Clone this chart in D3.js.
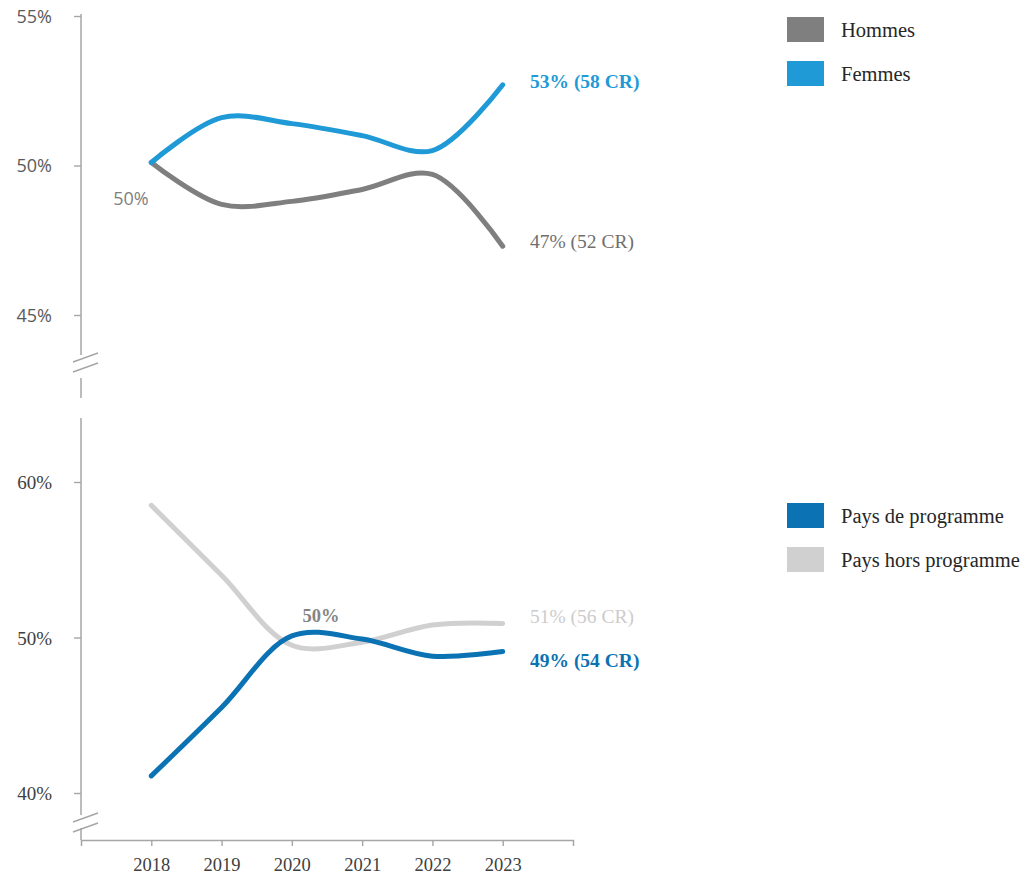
<!DOCTYPE html>
<html>
<head>
<meta charset="utf-8">
<script src="https://cdn.jsdelivr.net/npm/d3@7"></script>
<style>
  html, body { margin: 0; padding: 0; background: #ffffff; }
  svg { display: block; }
  .serif { font-family: "Liberation Serif", "Times New Roman", serif; }
  .sans { font-family: "Open Sans", "Noto Sans", sans-serif; }
</style>
</head>
<body>
<svg id="chart" width="1024" height="886"></svg>
<script>
// Years shown on the shared horizontal axis
const years = [2018, 2019, 2020, 2021, 2022, 2023];

// Upper panel: share by gender (%)
const hommes = [50.1, 48.7, 48.8, 49.2, 49.7, 47.3];
const femmes = [50.1, 51.6, 51.4, 51.0, 50.5, 52.7];
const genderCR2023 = { hommes: 52, femmes: 58 };
const topTicks = [45, 50, 55];

// Lower panel: share by country group (%)
const paysProgramme = [41.1, 45.5, 50.1, 49.9, 48.8, 49.1];
const paysHorsProgramme = [58.5, 54.0, 49.5, 49.7, 50.8, 50.9];
const countryCR2023 = { programme: 54, hors: 56 };
const bottomTicks = [40, 50, 60];

const legendTop = ["Hommes", "Femmes"];
const legendBottom = ["Pays de programme", "Pays hors programme"];

const colors = {
  hommes: "#7f7f7f",
  femmes: "#1f9ad6",
  programme: "#0b72b3",
  hors: "#d0d0d0",
  axis: "#a6a6a6"
};

const svg = d3.select("#chart");

const x = d3.scaleLinear().domain([2017, 2024]).range([81, 573]);
const yTop = d3.scaleLinear().domain([45, 55]).range([315, 16]);
const yBot = d3.scaleLinear().domain([40, 60]).range([793, 482]);

const pct = v => `${Math.round(v)}%`;

function drawLine(values, y, color) {
  const line = d3.line()
    .x((d, i) => x(years[i]))
    .y(d => y(d))
    .curve(d3.curveCatmullRom.alpha(0.5));
  svg.append("path")
    .datum(values)
    .attr("d", line)
    .attr("fill", "none")
    .attr("stroke", color)
    .attr("stroke-width", 5)
    .attr("stroke-linecap", "round")
    .attr("stroke-linejoin", "round");
}

function axisBreak(yPos) {
  const g = svg.append("g").attr("stroke", colors.axis).attr("stroke-width", 1.4);
  g.append("line").attr("x1", 73).attr("y1", yPos + 9).attr("x2", 98).attr("y2", yPos);
  g.append("line").attr("x1", 73).attr("y1", yPos + 19).attr("x2", 98).attr("y2", yPos + 10);
}

function vSeg(y1, y2) {
  svg.append("line")
    .attr("x1", 81).attr("x2", 81).attr("y1", y1).attr("y2", y2)
    .attr("stroke", colors.axis).attr("stroke-width", 1.5);
}

// ---------- Upper panel ----------
const gTop = svg.append("g").attr("transform", "translate(81,0)")
  .call(d3.axisLeft(yTop).tickValues(topTicks).tickFormat(pct).tickSize(7).tickSizeOuter(0));
gTop.select(".domain").remove();
gTop.selectAll(".tick line").attr("stroke", colors.axis).attr("stroke-width", 1.4);
gTop.selectAll(".tick text")
  .attr("class", "sans")
  .attr("x", -29)
  .attr("dy", "0.35em")
  .attr("font-size", 18)
  .attr("fill", "#5a5a5a");
vSeg(14, 355);
axisBreak(353);
vSeg(378, 398);

drawLine(hommes, yTop, colors.hommes);
drawLine(femmes, yTop, colors.femmes);

svg.append("text").attr("class", "sans")
  .attr("x", 131).attr("y", yTop(hommes[0]) + 42)
  .attr("text-anchor", "middle").attr("font-size", 18).attr("fill", "#7f7f7f")
  .text(pct(hommes[0]));

svg.append("text").attr("class", "serif")
  .attr("x", 530).attr("y", yTop(femmes[5]) - 4).attr("dy", "0.35em")
  .attr("font-size", 19.5).attr("font-weight", "bold").attr("fill", colors.femmes)
  .text(`${pct(femmes[5])} (${genderCR2023.femmes} CR)`);
svg.append("text").attr("class", "serif")
  .attr("x", 530).attr("y", yTop(hommes[5]) - 5).attr("dy", "0.35em")
  .attr("font-size", 19.5).attr("fill", "#6f6f6f")
  .text(`${pct(hommes[5])} (${genderCR2023.hommes} CR)`);

// ---------- Lower panel ----------
const gBot = svg.append("g").attr("transform", "translate(81,0)")
  .call(d3.axisLeft(yBot).tickValues(bottomTicks).tickFormat(pct).tickSize(7).tickSizeOuter(0));
gBot.select(".domain").remove();
gBot.selectAll(".tick line").attr("stroke", colors.axis).attr("stroke-width", 1.4);
gBot.selectAll(".tick text")
  .attr("class", "serif")
  .attr("x", -29)
  .attr("dy", "0.35em")
  .attr("font-size", 19)
  .attr("fill", "#404040");
vSeg(418, 815);
axisBreak(813);
vSeg(828, 840);

const gX = svg.append("g").attr("transform", "translate(0,840)")
  .call(d3.axisBottom(x).tickValues(years).tickFormat(d3.format("d")).tickSize(6).tickSizeOuter(6));
gX.select(".domain").attr("stroke", colors.axis).attr("stroke-width", 1.5);
gX.selectAll(".tick line").attr("stroke", colors.axis).attr("stroke-width", 1.4);
gX.selectAll(".tick text")
  .attr("class", "serif")
  .attr("y", 25)
  .attr("dy", "0.35em")
  .attr("font-size", 18.5)
  .attr("fill", "#404040");

drawLine(paysHorsProgramme, yBot, colors.hors);
drawLine(paysProgramme, yBot, colors.programme);

svg.append("text").attr("class", "serif")
  .attr("x", 321).attr("y", yBot(paysProgramme[2]) - 20).attr("dy", "0.35em")
  .attr("text-anchor", "middle").attr("font-size", 18.5).attr("font-weight", "bold").attr("fill", "#858585")
  .text(pct(paysProgramme[2]));

svg.append("text").attr("class", "serif")
  .attr("x", 530).attr("y", yBot(paysHorsProgramme[5]) - 7).attr("dy", "0.35em")
  .attr("font-size", 19.5).attr("fill", "#cccccc")
  .text(`${pct(paysHorsProgramme[5])} (${countryCR2023.hors} CR)`);
svg.append("text").attr("class", "serif")
  .attr("x", 530).attr("y", yBot(paysProgramme[5]) + 9).attr("dy", "0.35em")
  .attr("font-size", 19.5).attr("font-weight", "bold").attr("fill", colors.programme)
  .text(`${pct(paysProgramme[5])} (${countryCR2023.programme} CR)`);

// ---------- Legends ----------
function legend(items, fills, top) {
  const g = svg.append("g").attr("transform", `translate(787,${top})`);
  const row = g.selectAll("g").data(items).join("g")
    .attr("transform", (d, i) => `translate(0,${i * 44})`);
  row.append("rect").attr("width", 37).attr("height", 25).attr("fill", (d, i) => fills[i]);
  row.append("text").attr("class", "serif")
    .attr("x", 54).attr("y", 12.5).attr("dy", "0.35em")
    .attr("font-size", 20.5).attr("fill", "#262626")
    .text(d => d);
}
legend(legendTop, [colors.hommes, colors.femmes], 17);
legend(legendBottom, [colors.programme, colors.hors], 503);
</script>
</body>
</html>
